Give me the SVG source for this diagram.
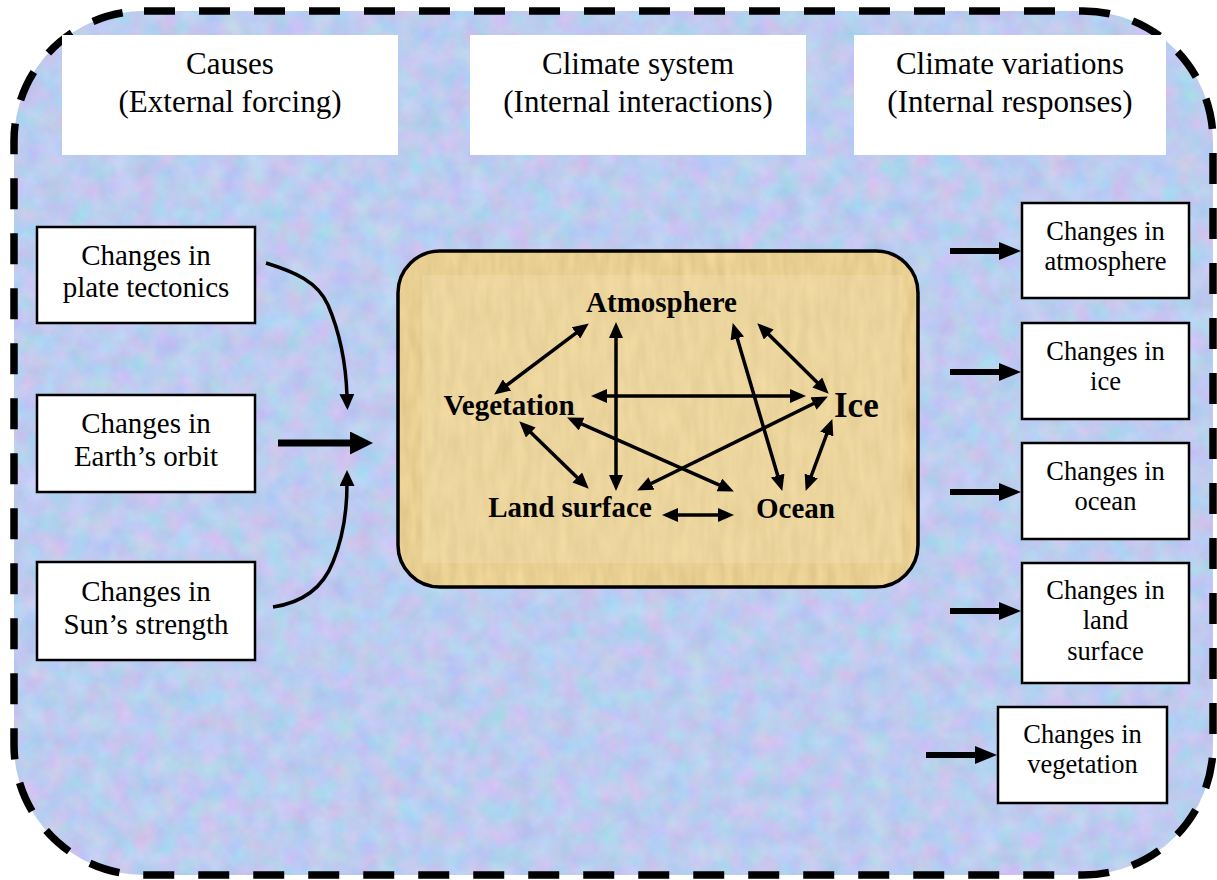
<svg xmlns="http://www.w3.org/2000/svg" width="1217" height="880" viewBox="0 0 1217 880">
  <style>
    text { font-family: "Liberation Serif", "Times New Roman", serif; fill: #000; text-anchor: middle; }
    .hdr { font-size: 31px; }
    .cause { font-size: 29px; }
    .resp { font-size: 26.5px; }
    .comp { font-size: 29px; font-weight: bold; }
    .hbox { fill: #fff; }
    .box { fill: #fff; stroke: #000; stroke-width: 2.5; }
    .link { stroke: #000; stroke-width: 3.5; fill: none; marker-start: url(#tip); marker-end: url(#tip); }
    .feed { stroke: #000; stroke-width: 6; fill: none; marker-end: url(#headR); }
    .curve { stroke: #000; stroke-width: 3.5; fill: none; marker-end: url(#headC); }
  </style>
  <defs>
    <!-- pastel mottled backdrop -->
    <filter id="mottle" x="0" y="0" width="100%" height="100%" color-interpolation-filters="sRGB">
      <feTurbulence type="fractalNoise" baseFrequency="0.045" numOctaves="3" seed="7" result="n"/>
      <feColorMatrix in="n" type="matrix" values="0.22 -0.12 0 0 0.69  0 0.16 0 0 0.72  0 0 0.1 0 0.89  0 0 0 0 1" result="c"/>
      <feComposite in="c" in2="SourceAlpha" operator="in"/>
    </filter>
    <!-- parchment texture -->
    <filter id="parch" x="0" y="0" width="100%" height="100%" color-interpolation-filters="sRGB">
      <feTurbulence type="fractalNoise" baseFrequency="0.12 0.03" numOctaves="2" seed="3" result="n"/>
      <feColorMatrix in="n" type="matrix" values="0.1 0 0 0 0.86  0.1 0 0 0 0.76  0.1 0 0 0 0.52  0 0 0 0 1" result="c"/>
      <feComposite in="c" in2="SourceAlpha" operator="in"/>
    </filter>
    <marker id="tip" viewBox="0 0 16 14" refX="7" refY="7" markerWidth="16" markerHeight="14" markerUnits="userSpaceOnUse" orient="auto-start-reverse">
      <path d="M0,0 L16,7 L0,14 z" fill="#000"/>
    </marker>
    <marker id="headR" viewBox="0 0 22 18" refX="1" refY="9" markerWidth="22" markerHeight="18" markerUnits="userSpaceOnUse" orient="auto">
      <path d="M0,0 L22,9 L0,18 z" fill="#000"/>
    </marker>
    <marker id="headL" viewBox="0 0 23 23" refX="1" refY="11.5" markerWidth="23" markerHeight="23" markerUnits="userSpaceOnUse" orient="auto">
      <path d="M0,0 L23,11.5 L0,23 z" fill="#000"/>
    </marker>
    <marker id="headC" viewBox="0 0 16 15" refX="2" refY="7.5" markerWidth="16" markerHeight="15" markerUnits="userSpaceOnUse" orient="auto">
      <path d="M0,0 L16,7.5 L0,15 z" fill="#000"/>
    </marker>
  </defs>

  <rect width="1217" height="880" fill="#fff"/>

  <!-- outer frame -->
  <g id="frame">
    <rect x="14" y="11" width="1199" height="864" rx="130" fill="#c3cdf0" filter="url(#mottle)"/>
    <rect x="14" y="11" width="1199" height="864" rx="130" fill="none" stroke="#000" stroke-width="7.5" stroke-dasharray="31 24"/>
  </g>

  <!-- column headings -->
  <g id="hdr-causes">
    <rect class="hbox" x="62" y="35" width="336" height="120"/>
    <text class="hdr" x="230" y="74">Causes</text>
    <text class="hdr" x="230" y="112">(External forcing)</text>
  </g>
  <g id="hdr-system">
    <rect class="hbox" x="470" y="35" width="336" height="120"/>
    <text class="hdr" x="638" y="74">Climate system</text>
    <text class="hdr" x="638" y="112">(Internal interactions)</text>
  </g>
  <g id="hdr-variations">
    <rect class="hbox" x="854" y="35" width="312" height="120"/>
    <text class="hdr" x="1010" y="74">Climate variations</text>
    <text class="hdr" x="1010" y="112">(Internal responses)</text>
  </g>

  <!-- forcing boxes -->
  <g id="plate-tectonics">
    <rect class="box" x="37" y="227" width="218" height="96"/>
    <text class="cause" x="146" y="265">Changes in</text>
    <text class="cause" x="146" y="297">plate tectonics</text>
  </g>
  <g id="earth-orbit">
    <rect class="box" x="37" y="395" width="218" height="97"/>
    <text class="cause" x="146" y="433">Changes in</text>
    <text class="cause" x="146" y="466">Earth’s orbit</text>
  </g>
  <g id="sun-strength">
    <rect class="box" x="37" y="562" width="218" height="98"/>
    <text class="cause" x="146" y="601">Changes in</text>
    <text class="cause" x="146" y="634">Sun’s strength</text>
  </g>

  <!-- climate system -->
  <g id="climate-system">
    <rect x="398" y="251" width="520" height="336" rx="42" fill="#e4c888" filter="url(#parch)"/>
    <rect x="422" y="275" width="480" height="288" fill="#f4e6b8" opacity="0.3"/>
    <rect x="398" y="251" width="520" height="336" rx="42" fill="none" stroke="#000" stroke-width="3.5"/>
  </g>
  <g id="atmosphere"><text class="comp" x="661.5" y="312">Atmosphere</text></g>
  <g id="vegetation"><text class="comp" x="509" y="415">Vegetation</text></g>
  <g id="ice"><text class="comp" x="834" y="417" style="font-size:35px;text-anchor:start">Ice</text></g>
  <g id="land-surface"><text class="comp" x="570" y="517">Land surface</text></g>
  <g id="ocean"><text class="comp" x="795.5" y="518">Ocean</text></g>

  <!-- response boxes -->
  <g id="resp-atmosphere">
    <rect class="box" x="1022" y="203" width="167" height="95"/>
    <text class="resp" x="1105.5" y="240">Changes in</text>
    <text class="resp" x="1105.5" y="270">atmosphere</text>
  </g>
  <g id="resp-ice">
    <rect class="box" x="1022" y="323" width="167" height="96"/>
    <text class="resp" x="1105.5" y="360">Changes in</text>
    <text class="resp" x="1105.5" y="390">ice</text>
  </g>
  <g id="resp-ocean">
    <rect class="box" x="1022" y="443" width="167" height="96"/>
    <text class="resp" x="1105.5" y="480">Changes in</text>
    <text class="resp" x="1105.5" y="510">ocean</text>
  </g>
  <g id="resp-land">
    <rect class="box" x="1022" y="563" width="167" height="120"/>
    <text class="resp" x="1105.5" y="599">Changes in</text>
    <text class="resp" x="1105.5" y="629">land</text>
    <text class="resp" x="1105.5" y="660">surface</text>
  </g>
  <g id="resp-vegetation">
    <rect class="box" x="998" y="707" width="169" height="96"/>
    <text class="resp" x="1082.5" y="743">Changes in</text>
    <text class="resp" x="1082.5" y="773">vegetation</text>
  </g>

  <!-- connectors -->
  <g id="connectors">
    <!-- forcing into the system -->
    <path class="curve" d="M266,263 C295,272 318,282 328,305 C340,333 346,365 347,396"/>
    <path class="curve" d="M273,607 C300,603 322,590 333,562 C344,535 347,510 347,484"/>
    <line x1="278" y1="443" x2="351" y2="443" stroke="#000" stroke-width="7" marker-end="url(#headL)"/>

    <!-- internal interactions -->
    <line class="link" x1="581.6" y1="328.8" x2="501.4" y2="389.2"/>
    <line class="link" x1="616" y1="331" x2="616" y2="482"/>
    <line class="link" x1="600" y1="396" x2="797" y2="396"/>
    <line class="link" x1="525.7" y1="427.6" x2="582.3" y2="482.4"/>
    <line class="link" x1="575.3" y1="421.2" x2="725.7" y2="487.8"/>
    <line class="link" x1="819.8" y1="400.5" x2="645.2" y2="486.5"/>
    <line class="link" x1="735.3" y1="331.7" x2="779.7" y2="482.3"/>
    <line class="link" x1="763.7" y1="329.6" x2="822.3" y2="387.4"/>
    <line class="link" x1="829.2" y1="427.5" x2="808.8" y2="482.5"/>
    <line class="link" x1="671" y1="515" x2="725" y2="515"/>

    <!-- responses -->
    <line class="feed" x1="950" y1="251" x2="1000" y2="251"/>
    <line class="feed" x1="950" y1="372" x2="1000" y2="372"/>
    <line class="feed" x1="950" y1="492" x2="1000" y2="492"/>
    <line class="feed" x1="950" y1="611" x2="1000" y2="611"/>
    <line class="feed" x1="926" y1="755" x2="976" y2="755"/>
  </g>
</svg>
